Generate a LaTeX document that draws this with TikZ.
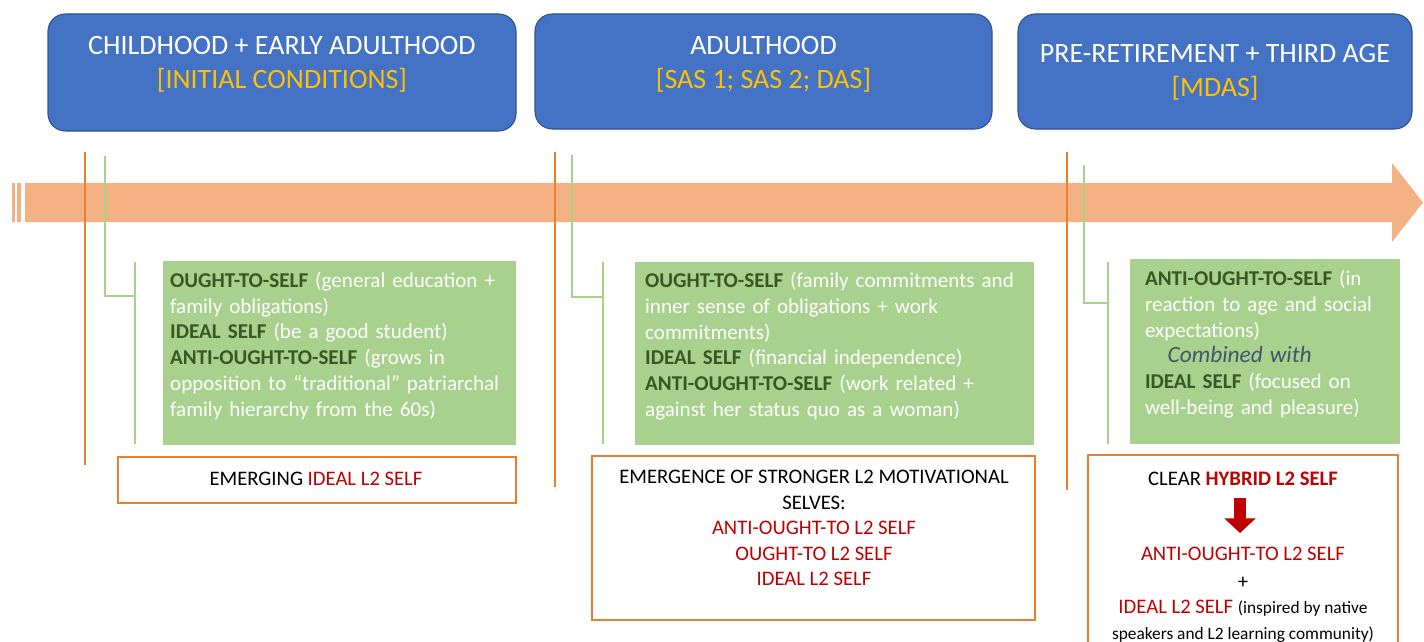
\documentclass[tikz,border=0pt]{standalone}
\usepackage{fontspec}
\setmainfont{Carlito}
\usepackage{xcolor}
\definecolor{hdblue}{HTML}{4472C4}
\definecolor{hdedge}{HTML}{2F528F}
\definecolor{gold}{HTML}{FFC000}
\definecolor{sage}{HTML}{A9D18E}
\definecolor{forest}{HTML}{385723}
\definecolor{ember}{HTML}{ED7D31}
\definecolor{peach}{HTML}{F4B183}
\definecolor{l2red}{HTML}{C00000}
\definecolor{slate}{HTML}{44546A}
\usetikzlibrary{arrows.meta,positioning}
\tikzset{
  hdbox/.style={draw=hdedge,line width=0.8pt,fill=hdblue,rounded corners=13pt},
  hdtxt/.style={text=white,align=center,inner sep=0pt,font=\fontsize{21}{25.5}\selectfont},
  selfbox/.style={fill=sage,text=white,align=left,inner sep=0pt,
                  font=\fontsize{15.8}{19.3}\selectfont},
  l2box/.style={draw=ember,line width=1.2pt,fill=white},
  l2txt/.style={align=center,inner sep=0pt,font=\fontsize{15.5}{19.1}\selectfont},
  tline/.style={draw=ember,line width=1.2pt},
  brk/.style={draw=sage,line width=1pt},
  hybarrow/.style={-{Triangle[width=23pt,length=11pt]},line width=9pt,draw=l2red},
}
\newcommand\selfname[1]{\textbf{\textcolor{forest}{#1}}}
\newcommand\redself[1]{\textcolor{l2red}{#1}}
\newcommand\smallnote{\fontsize{13}{19.1}\selectfont}
\newcommand\lift{\par\vspace*{11pt}}

\begin{document}
\begin{tikzpicture}[x=0.75pt,y=-0.75pt]
  \clip (0,0) rectangle (1424,642);
  \fill[white] (0,0) rectangle (1424,642);

  % ---- timeline ----
  \fill[peach] (12,183) rectangle (15,222);
  \fill[peach] (17,183) rectangle (21,222);
  \fill[peach] (25,183) -- (1392,183) -- (1392,163) -- (1423,202.5)
    -- (1392,242) -- (1392,222) -- (25,222) -- cycle;

  % ---- stages ----
  \node[hdbox,minimum width=351pt,minimum height=87.75pt] (hd1) at (282,72.5) {};
  \node[hdtxt] (hd1t) at (282,64) {CHILDHOOD + EARLY ADULTHOOD\\\textcolor{gold}{[INITIAL CONDITIONS]}};
  \node[hdbox,minimum width=342.75pt,minimum height=86.25pt] (hd2) at (763.5,71.5) {};
  \node[hdtxt] (hd2t) at (763.5,64) {ADULTHOOD\\\textcolor{gold}{[SAS 1; SAS 2; DAS]}};
  \node[hdbox,minimum width=295.5pt,minimum height=86.25pt] (hd3) at (1215,71.5) {};
  \node[hdtxt] (hd3t) at (1215,72.5) {PRE-RETIREMENT + THIRD AGE\\\textcolor{gold}{[MDAS]}};

  % ---- era markers and brackets ----
  \foreach \n/\x/\yb in {1/85/465,2/555/487,3/1067/490} {
    \coordinate (era\n top) at (\x,152);
    \coordinate (era\n end) at (\x,\yb);
    \draw[tline] (era\n top) -- (era\n end);
  }
  \foreach \n/\xa/\ya/\yk/\xb in {1/105/156/296/135,2/572/155/297/603,3/1084/165/303/1108} {
    \coordinate (brk\n a) at (\xa,\ya);
    \coordinate (brk\n k) at (\xb,\yk);
    \coordinate (brk\n t) at (\xb,262);
    \coordinate (brk\n b) at (\xb,444);
    \draw[brk] (brk\n a) |- (brk\n k);
    \draw[brk] (brk\n t) -- (brk\n b);
  }

  % ---- possible selves ----
  \node[selfbox,minimum width=264.75pt,minimum height=138pt,text width=254pt] (self1) at (339.5,353)
    {\selfname{OUGHT-TO-SELF} (general education +\\family obligations)\\
     \selfname{IDEAL SELF} (be a good student)\\
     \selfname{ANTI-OUGHT-TO-SELF} (grows in\\opposition to “traditional” patriarchal\\family hierarchy from the 60s)\lift};
  \node[selfbox,minimum width=299.25pt,minimum height=137.25pt,text width=284pt] (self2) at (834.5,353.5)
    {\selfname{OUGHT-TO-SELF} (family commitments and\\inner sense of obligations + work\\commitments)\\
     \selfname{IDEAL SELF} (financial independence)\\
     \selfname{ANTI-OUGHT-TO-SELF} (work related +\\against her status quo as a woman)\lift};
  \node[selfbox,minimum width=202.5pt,minimum height=138.75pt,text width=180pt] (self3) at (1265,351.5)
    {\selfname{ANTI-OUGHT-TO-SELF} (in\\reaction to age and social\\expectations)\\
     \hspace*{17pt}{\fontsize{17.5}{19.3}\selectfont\textit{\textcolor{slate}{Combined with}}}\\
     \selfname{IDEAL SELF} (focused on\\well-being and pleasure)\lift};

  % ---- L2 selves ----
  \node[l2box,minimum width=298.5pt,minimum height=34.5pt] (l2a) at (317,480) {};
  \node[l2txt] (l2at) at (316,479) {EMERGING \redself{IDEAL L2 SELF}};
  \node[l2box,minimum width=332.25pt,minimum height=123pt] (l2b) at (813.5,538) {};
  \node[l2txt] (l2bt) at (814,528) {EMERGENCE OF STRONGER L2 MOTIVATIONAL\\SELVES:\\
    \redself{ANTI-OUGHT-TO L2 SELF}\\\redself{OUGHT-TO L2 SELF}\\\redself{IDEAL L2 SELF}};
  \node[l2box,minimum width=232.5pt,minimum height=153.75pt] (l2c) at (1243,557.5) {};
  \node[l2txt] (l2ct) at (1243,479) {CLEAR \textbf{\redself{HYBRID L2 SELF}}};
  \coordinate (hybA) at (1240,498);
  \coordinate (hybB) at (1240,533);
  \draw[hybarrow] (hybA) -- (hybB);
  \node[l2txt] (l2cm) at (1243,594.5) {\redself{ANTI-OUGHT-TO L2 SELF}\\[2pt]+\\
    \redself{IDEAL L2 SELF} {\smallnote(inspired by native}\\{\smallnote speakers and L2 learning community)}};
\end{tikzpicture}
\end{document}
